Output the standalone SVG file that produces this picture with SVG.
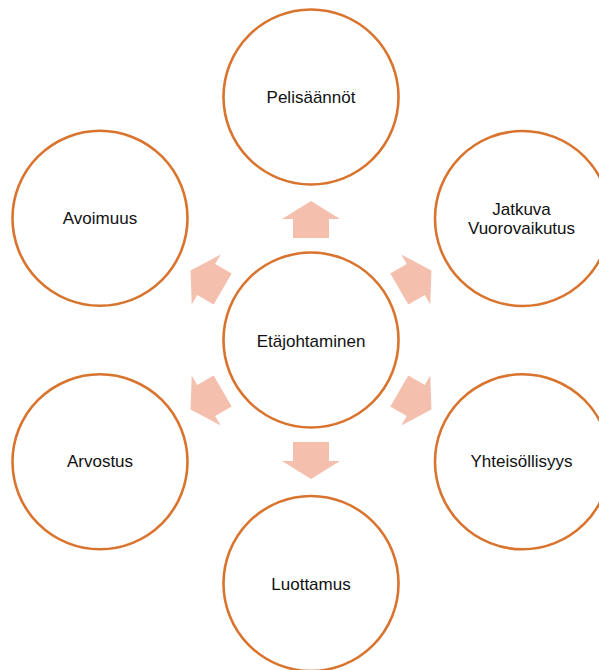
<svg xmlns="http://www.w3.org/2000/svg" width="599" height="670" viewBox="0 0 599 670">
<defs>
<style>
.node circle{fill:#FFFFFF;stroke:#D9742F;stroke-width:2.6}
.node text{font-family:"Liberation Sans",Arial,sans-serif;font-size:17px;fill:#111111;text-anchor:middle}
.arrow{fill:#F4BFAD}
</style>
<polygon id="arr" points="-18,-102 -18,-121 -29,-121 0,-139 29,-121 18,-121 18,-102"/>
</defs>
<rect width="599" height="670" fill="#FFFFFF"/>
<g id="connectors" class="arrow" transform="translate(311,340)">
<use href="#arr"/>
<use href="#arr" transform="rotate(60)"/>
<use href="#arr" transform="rotate(120)"/>
<use href="#arr" transform="rotate(180)"/>
<use href="#arr" transform="rotate(240)"/>
<use href="#arr" transform="rotate(300)"/>
</g>
<g id="center" class="node"><circle cx="311" cy="340" r="87.5"/><text x="311" y="346.5">Etäjohtaminen</text></g>
<g id="pelisaannot" class="node"><circle cx="311" cy="97" r="87.5"/><text x="311" y="103">Pelisäännöt</text></g>
<g id="jatkuva" class="node"><circle cx="522.5" cy="218.5" r="87.5"/><text x="521.5" y="215">Jatkuva</text><text x="521.5" y="233.5">Vuorovaikutus</text></g>
<g id="yhteisollisyys" class="node"><circle cx="522.5" cy="461.8" r="87.5"/><text x="521.5" y="467">Yhteisöllisyys</text></g>
<g id="luottamus" class="node"><circle cx="311" cy="583.5" r="87.5"/><text x="311" y="590">Luottamus</text></g>
<g id="arvostus" class="node"><circle cx="100" cy="461.8" r="87.5"/><text x="100" y="467">Arvostus</text></g>
<g id="avoimuus" class="node"><circle cx="100" cy="218.3" r="87.5"/><text x="100" y="224">Avoimuus</text></g>
</svg>
